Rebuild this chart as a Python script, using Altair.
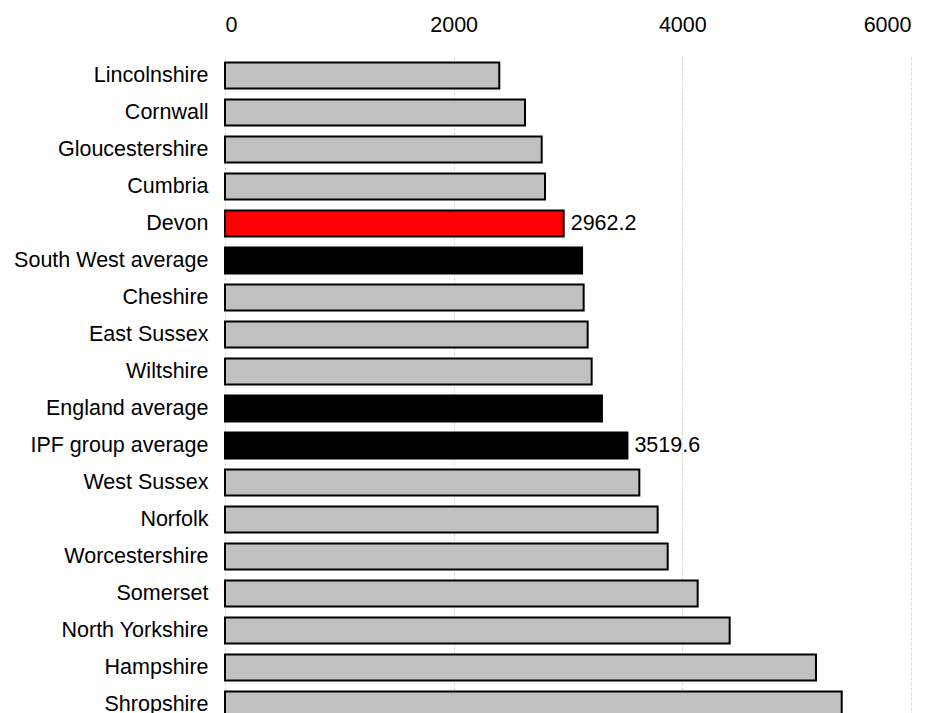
import altair as alt
import pandas as pd

categories = ["Lincolnshire", "Cornwall", "Gloucestershire", "Cumbria", "Devon",
              "South West average", "Cheshire", "East Sussex", "Wiltshire",
              "England average", "IPF group average", "West Sussex", "Norfolk",
              "Worcestershire", "Somerset", "North Yorkshire", "Hampshire", "Shropshire"]
values = [2399, 2624, 2770, 2799, 2962.2, 3123, 3137, 3172, 3207, 3297, 3519.6,
          3624, 3784, 3872, 4134, 4414, 5169, 5394]
kinds = ["county", "county", "county", "county", "devon", "average", "county", "county",
         "county", "average", "average", "county", "county", "county", "county",
         "county", "county", "county"]
labels = ["", "", "", "", "2962.2", "", "", "", "", "", "3519.6", "", "", "", "", "", "", ""]

df = pd.DataFrame({"name": categories, "value": values, "kind": kinds, "label": labels})

FONT = "Liberation Sans"
FS = 21.5

y_enc = alt.Y("name:N", sort=categories, title=None,
              scale=alt.Scale(paddingInner=0.3, paddingOuter=0.15),
              axis=alt.Axis(labelFont=FONT, labelFontSize=FS, labelColor="black",
                            labelPadding=17, ticks=False, domain=False, grid=False,
                            labelLimit=400))
x_enc = alt.X("value:Q", title=None,
              scale=alt.Scale(domain=[0, 6000], nice=False),
              axis=alt.Axis(orient="top", values=[0, 2000, 4000, 6000], format="d",
                            labelFont=FONT, labelFontSize=FS, labelColor="black",
                            labelPadding=21, ticks=False, domain=False,
                            grid=True, gridColor="#d9d9d9", gridDash=[3, 2],
                            gridWidth=1))

bars = alt.Chart(df).mark_bar(stroke="black", strokeWidth=2).encode(
    y=y_enc, x=x_enc,
    color=alt.Color("kind:N", legend=None,
                    scale=alt.Scale(domain=["county", "devon", "average"],
                                    range=["#c0c0c0", "#ff0000", "#000000"]))
)

text = alt.Chart(df).mark_text(align="left", dx=7, font=FONT, fontSize=FS,
                               color="black", baseline="middle").encode(
    y=alt.Y("name:N", sort=categories), x="value:Q", text="label:N"
)

chart = alt.layer(bars, text).properties(
    width=686, height=666,
    padding={"left": 5, "top": 6, "right": 5, "bottom": 5}
).configure_view(stroke=None)

chart.save("out.html", embed_options={"renderer": "svg", "actions": False})
